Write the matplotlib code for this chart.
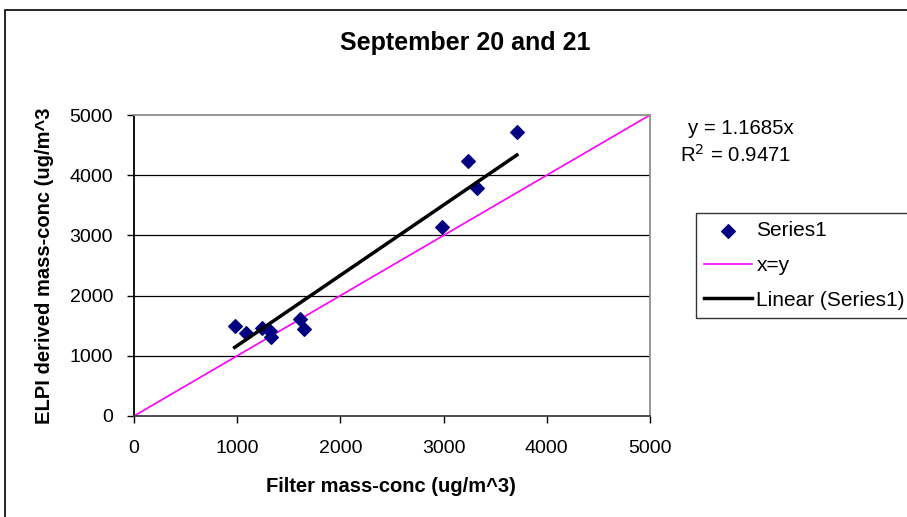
import matplotlib.pyplot as plt
from matplotlib.patches import Rectangle

# data
filter_conc = [975, 1085, 1240, 1315, 1330, 1610, 1650, 2985, 3235, 3325, 3710]
elpi_conc = [1490, 1375, 1465, 1410, 1320, 1605, 1450, 3140, 4235, 3790, 4720]
slope = 1.1685
r2 = 0.9471
ticks = [0, 1000, 2000, 3000, 4000, 5000]

plt.rcParams['font.family'] = ['Liberation Sans', 'DejaVu Sans']

fig = plt.figure(figsize=(9.07, 5.17), dpi=100)
ax = fig.add_axes([134 / 907, 101 / 517, 516 / 907, 301 / 517])

# outer chart border
fig.patches.append(Rectangle((5 / 907, -0.1), 1.1, (507 / 517) + 0.1,
                             transform=fig.transFigure, fill=False,
                             edgecolor='black', linewidth=1.2))

for y in ticks[1:-1]:
    ax.axhline(y, color='black', linewidth=0.9, zorder=1)

ax.scatter(filter_conc, elpi_conc, marker='D', s=48, color='#000080',
           label='Series1', zorder=3)
ax.plot([0, 5000], [0, 5000], color='#ff00ff', linewidth=1.2, label='x=y', zorder=2)
xs = [min(filter_conc), max(filter_conc)]
ax.plot(xs, [slope * v for v in xs], color='black', linewidth=2.5,
        label='Linear (Series1)', zorder=4)

ax.set_xlim(0, 5000)
ax.set_ylim(0, 5000)
ax.set_xticks(ticks)
ax.set_yticks(ticks)
ax.tick_params(labelsize=14, direction='out', length=5, width=1)
ax.tick_params(axis='x', pad=12)
ax.tick_params(axis='y', pad=10)
ax.spines['left'].set_color('black')
ax.spines['bottom'].set_color('#404040')
ax.spines['top'].set_color('#909090')
ax.spines['right'].set_color('#909090')
for s in ax.spines.values():
    s.set_linewidth(1.3)

fig.text(465 / 907, 1 - 43 / 517, 'September 20 and 21', fontsize=18,
         fontweight='bold', ha='center', va='center')
fig.text(391 / 907, 1 - 487 / 517, 'Filter mass-conc (ug/m^3)', fontsize=14.5,
         fontweight='bold', ha='center', va='center')
fig.text(45 / 907, 1 - 266 / 517, 'ELPI derived mass-conc (ug/m^3', fontsize=14.5,
         fontweight='bold', ha='center', va='center', rotation=90)

fig.text(688 / 907, 1 - 128 / 517, f'y = {slope:.4f}x', fontsize=14.7, va='center')
fig.text(680 / 907, 1 - 155 / 517, f'R$^2$ = {r2:.4f}', fontsize=14.7, va='center')

leg = ax.legend(loc='upper left', bbox_to_anchor=(696 / 907, 1 - 213 / 517),
                bbox_transform=fig.transFigure, fontsize=15, frameon=True,
                fancybox=False, edgecolor='black', handlelength=2.3,
                borderpad=0.4, labelspacing=0.75, handletextpad=0.2,
                borderaxespad=0)
leg.get_frame().set_linewidth(1.0)

fig.savefig('out.png', dpi=100)
